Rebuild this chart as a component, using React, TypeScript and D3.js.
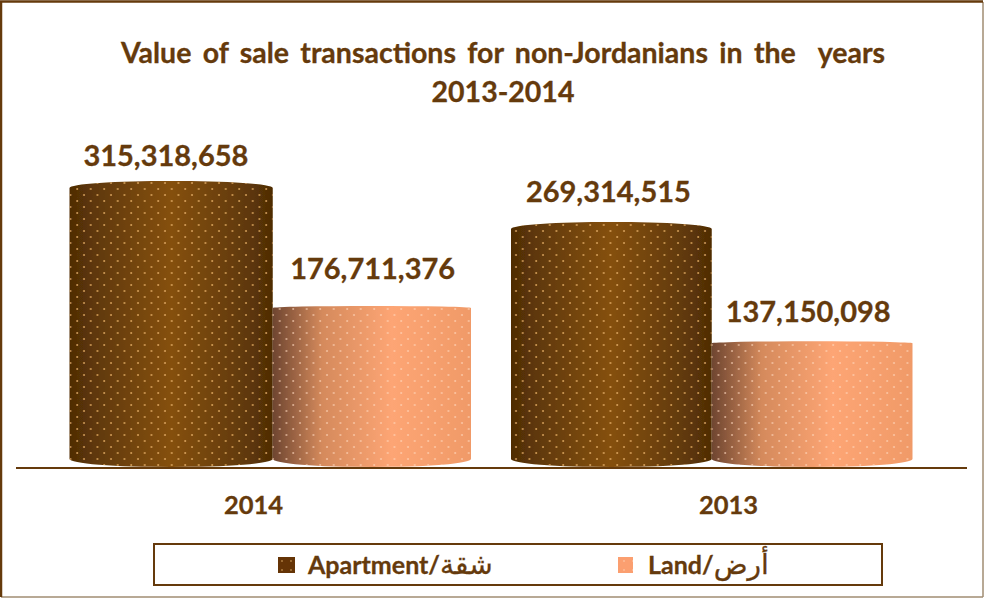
import * as d3 from "d3";
import React from "react";

const years = ["2014", "2013"];
const seriesNames = ["Apartment", "Land"];
const apartmentValues = [315318658, 269314515];
const landValues = [176711376, 137150098];
const legendEnglish = ["Apartment/", "Land/"];
const legendArabic = ["شقة", "أرض"];
const titleLines = [
  "Value of sale transactions for non-Jordanians in the  years",
  "2013-2014",
];

const WIDTH = 984;
const HEIGHT = 598;
const BASE_Y = 467;
const BROWN = "#653a0c";
const FONT = "Lato, 'DejaVu Sans', sans-serif";

const fmt = d3.format(",");

// axis categories sit on the full baseline, cylinders are pulled towards the middle
const xAxis = d3.scaleBand().domain(years).range([16, 966]);
const xGroup = d3.scaleBand().domain(years).range([49.5, 932.5]);
const xBar = d3.scaleBand().domain(seriesNames).range([20, 421.5]);
const y = d3.scaleLinear().domain([0, 350000000]).range([BASE_Y, 155]);

// the 3d perspective moves the seam between the two cylinders of the first group
const seamShift: Record<string, number> = { "2014": 2.5, "2013": 0 };
// data labels in the source were placed by hand
const labelNudge: Record<string, [number, number]> = {
  "2014Apartment": [-4, -20],
  "2014Land": [2, -30],
  "2013Apartment": [-3, -25],
  "2013Land": [-4, -23],
};

const bars = years.flatMap((year, i) => [
  { year, series: "Apartment", value: apartmentValues[i] },
  { year, series: "Land", value: landValues[i] },
]);

function cylinder(x0: number, x1: number, top: number, ryTop: number, ryBase: number) {
  const rx = (x1 - x0) / 2;
  return `M${x0},${top + ryTop}A${rx},${ryTop} 0 0 1 ${x1},${top + ryTop}L${x1},${BASE_Y - ryBase}A${rx},${ryBase} 0 0 1 ${x0},${BASE_Y - ryBase}Z`;
}

function DotPattern(props: { id: string; color: string; opacity: number }) {
  return (
    <pattern id={props.id} width={13.5} height={12} patternUnits="userSpaceOnUse">
      <circle cx={3} cy={3} r={1} fill={props.color} opacity={props.opacity} />
      <circle cx={9.75} cy={9} r={1} fill={props.color} opacity={props.opacity} />
    </pattern>
  );
}

export default function App() {
  return (
    <svg
      width={WIDTH}
      height={HEIGHT}
      style={{ position: "absolute", left: 0, top: 0, background: "#fff" }}
      fontFamily={FONT}
      fontWeight={700}
      fill={BROWN}
    >
      <defs>
        <linearGradient id="grad-Apartment">
          <stop offset="0" stopColor="#4f2c05" />
          <stop offset="0.15" stopColor="#623a09" />
          <stop offset="0.5" stopColor="#85500f" />
          <stop offset="0.85" stopColor="#623a09" />
          <stop offset="1" stopColor="#4f2c05" />
        </linearGradient>
        <linearGradient id="grad-Land">
          <stop offset="0" stopColor="#6e4530" />
          <stop offset="0.25" stopColor="#d58a5c" />
          <stop offset="0.6" stopColor="#fda574" />
          <stop offset="1" stopColor="#f09a68" />
        </linearGradient>
        <filter id="soft" x="-2%" y="-2%" width="104%" height="104%">
          <feGaussianBlur stdDeviation={0.5} />
        </filter>
        <DotPattern id="dots-Apartment" color="#e8b06a" opacity={0.85} />
        <DotPattern id="dots-Land" color="#ffd8bc" opacity={0.7} />
        <pattern id="swatch-Apartment" width={9} height={9} patternUnits="userSpaceOnUse">
          <rect width={9} height={9} fill="#653406" />
          <circle cx={3} cy={3} r={0.8} fill="#e0ae6a" />
        </pattern>
        <pattern id="swatch-Land" width={9} height={9} patternUnits="userSpaceOnUse">
          <rect width={9} height={9} fill="#fb9f70" />
          <circle cx={3} cy={3} r={0.8} fill="#ffd2b4" />
        </pattern>
      </defs>

      <path d="M983,597H1" fill="none" stroke="#a08c72" strokeWidth={1.5} />
      <path d="M983,597V2" fill="none" stroke="#a08c72" strokeWidth={1.5} />
      <path d="M1,597V1.5H983" fill="none" stroke={BROWN} strokeWidth={2.5} />

      <text
        textAnchor="middle"
        fontSize={28.5}
        stroke={BROWN}
        strokeWidth={0.3}
        style={{ whiteSpace: "pre" }}
      >
        {titleLines.map((line, i) => (
          <tspan key={line} x={503} y={63 + i * 39} wordSpacing={i === 0 ? 4.4 : 0}>
            {line}
          </tspan>
        ))}
      </text>

      {bars.map((d) => {
        const shift = seamShift[d.year];
        const start = (xGroup(d.year) ?? 0) + (xBar(d.series) ?? 0);
        const isApartment = d.series === "Apartment";
        const x0 = isApartment ? start : start + shift;
        const x1 = start + xBar.bandwidth() + (isApartment ? shift : 0);
        const ryTop = isApartment ? 7 : 2;
        const top = y(d.value) - (isApartment ? 5 : 3.5);
        const shape = cylinder(x0, x1, top, ryTop, 8);
        return (
          <g key={d.year + d.series} filter="url(#soft)">
            <path d={shape} fill={`url(#grad-${d.series})`} />
            <path d={shape} fill={`url(#dots-${d.series})`} />
          </g>
        );
      })}

      {bars.map((d) => {
        const x0 = (xGroup(d.year) ?? 0) + (xBar(d.series) ?? 0);
        const [dx, dy] = labelNudge[d.year + d.series];
        return (
          <text
            key={d.year + d.series}
            x={x0 + xBar.bandwidth() / 2 + dx}
            y={y(d.value) + dy}
            textAnchor="middle"
            fontSize={29}
            stroke={BROWN}
            strokeWidth={0.3}
          >
            {fmt(d.value)}
          </text>
        );
      })}

      <line x1={16} x2={967} y1={468} y2={468} stroke={BROWN} strokeWidth={2} />

      {years.map((year) => (
        <text
          key={year}
          x={(xAxis(year) ?? 0) + xAxis.bandwidth() / 2}
          y={514}
          textAnchor="middle"
          fontSize={25.5}
          stroke={BROWN}
          strokeWidth={0.3}
        >
          {year}
        </text>
      ))}

      <rect x={154} y={544} width={728} height={41} fill="#fff" stroke={BROWN} strokeWidth={2} />
      {seriesNames.map((name, i) => {
        const legendX = [278, 618][i];
        return (
          <g key={name}>
            <rect x={legendX} y={557} width={i === 0 ? 17 : 15} height={16} fill={`url(#swatch-${name})`} />
            <text x={legendX + 30} y={574} fontSize={25} stroke={BROWN} strokeWidth={0.3}>
              {legendEnglish[i]}
              <tspan fontWeight={400} fontSize={28}>{legendArabic[i]}</tspan>
            </text>
          </g>
        );
      })}
    </svg>
  );
}
